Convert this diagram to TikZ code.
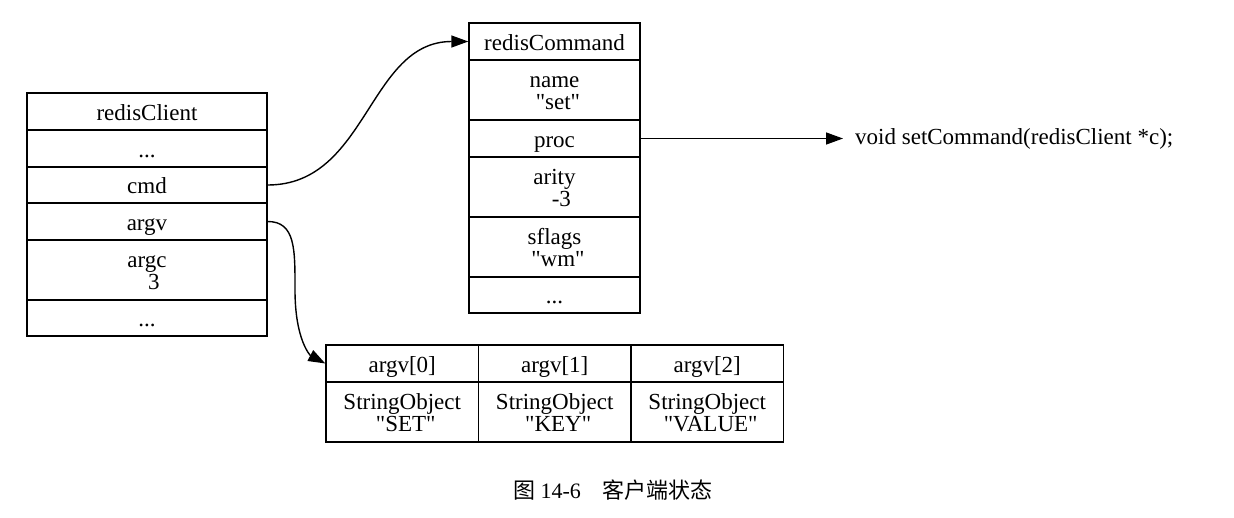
\documentclass[tikz,border=0pt]{standalone}
\usepackage{fontspec}
\setmainfont{Liberation Serif}[Ligatures=TeXOff]
\newfontfamily\cjk{Noto Sans CJK SC}
\usetikzlibrary{arrows.meta}
\newcommand\indnt{\hspace*{0.3em}}
\newcommand\twolines[2]{\rule{0pt}{18pt}#1\\\indnt#2\rule[-1pt]{0pt}{1pt}}
\begin{document}
\begin{tikzpicture}[x=1pt,y=-1pt,
  cellbox/.style={draw, line width=1.4pt, rectangle, inner sep=0pt, align=center,
    font=\fontsize{23}{22}\selectfont},
  one/.style={text height=18pt, text depth=1pt},
  boxL/.style={cellbox, minimum width=240pt},
  boxM/.style={cellbox, minimum width=171pt},
  boxA/.style={cellbox, minimum width=152.5pt},
  hA/.style={minimum height=37pt, one},
  hZ/.style={minimum height=36pt, one},
  hB/.style={minimum height=60pt},
  arrline/.style={line width=1.4pt, -{Triangle[length=17pt,width=12pt]}},
  plaintext/.style={font=\fontsize{23}{22}\selectfont, inner sep=0pt}]
\path (0,0) rectangle (1234,517);
% redisClient
\node[boxL,hA] (rc) at (147,111.5) {redisClient};
\node[boxL,hA] (rcd1) at (147,148.5) {...};
\node[boxL,hZ] (cmd) at (147,185) {cmd};
\node[boxL,hA] (argv) at (147,221.5) {argv};
\node[boxL,hB] (argc) at (147,270) {\twolines{argc}{\indnt3}};
\node[boxL,hZ] (rcd2) at (147,318) {...};
% redisCommand
\node[boxM,hA] (cmdt) at (554.5,41.5) {redisCommand};
\node[boxM,hB] (name) at (554.5,90) {\twolines{name}{"set"}};
\node[boxM,hA] (proc) at (554.5,138.5) {proc};
\node[boxM,hB] (arity) at (554.5,187) {\twolines{arity}{\indnt-3}};
\node[boxM,hB] (sflags) at (554.5,247) {\twolines{sflags}{"wm"}};
\node[boxM,hZ] (cmdd) at (554.5,295) {...};
% argv array
\node[boxA,hA] (a0) at (402.25,363.5) {argv[0]};
\node[boxA,hA] (a1) at (554.75,363.5) {argv[1]};
\node[boxA,hA] (a2) at (707.25,363.5) {argv[2]};
\node[boxA,hB] (s0) at (402.25,412) {\twolines{StringObject}{"SET"}};
\node[boxA,hB] (s1) at (554.75,412) {\twolines{StringObject}{"KEY"}};
\node[boxA,hB] (s2) at (707.25,412) {\twolines{StringObject}{"VALUE"}};
% function
\node[plaintext, anchor=west] (setcmd) at (855,139) {void setCommand(redisClient *c);};
% connectors
\draw[arrline] (cmd.east) .. controls +(100,0) and +(-100,0) .. (cmdt.west);
\coordinate (bend) at (295,290);
\draw[arrline] (argv.east) .. controls +(28,0) and +(0,-40) .. (bend)
  .. controls +(0,50) and +(-15,-8) .. (a0.west);
\draw[arrline, shorten >=12pt] (proc.east) -- (proc.east -| setcmd.west);
% caption
\node[font=\fontsize{22}{24}\selectfont, inner sep=0pt] (caption) at (613,490)
  {{\cjk 图} 14-6\hspace{1em}{\cjk 客户端状态}};
\end{tikzpicture}
\end{document}
